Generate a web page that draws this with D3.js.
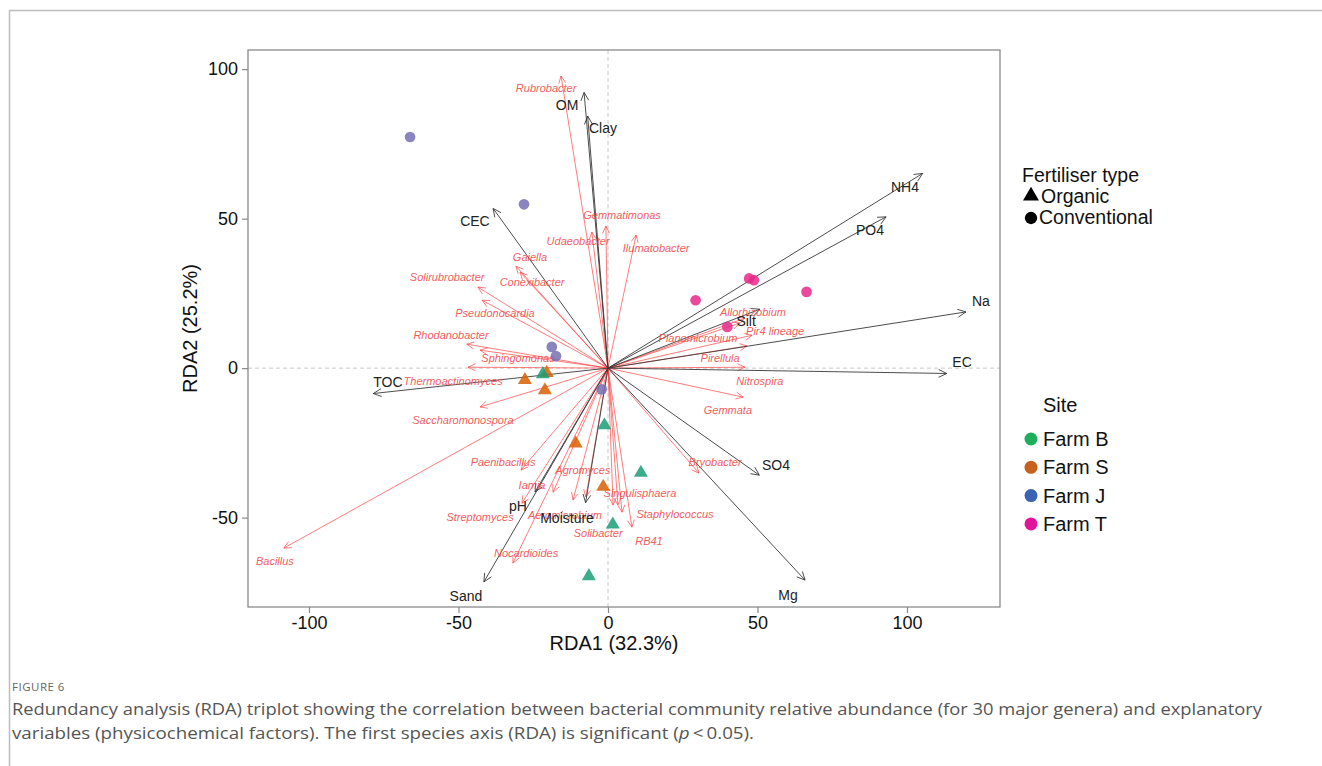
<!DOCTYPE html>
<html>
<head>
<meta charset="utf-8">
<script src="https://cdn.jsdelivr.net/npm/d3@7/dist/d3.min.js"></script>
<style>
  html, body { margin: 0; padding: 0; background: #fff; }
  svg { display: block; }
</style>
</head>
<body>
<svg id="chart" width="1322" height="766"></svg>
<script>
// ---------------- DATA ----------------
const xTicks = [-100, -50, 0, 50, 100];
const yTicks = [-50, 0, 50, 100];
const xTitle = "RDA1 (32.3%)";
const yTitle = "RDA2 (25.2%)";

// Samples (site scores)
const sampleX    = [-66.2, -28.1, -18.8, -17.4, -2.1,   29.3, 47.2, 48.8, 66.4, 39.9,   -27.8, -20.5, -21.1, -10.8, -1.6,   -21.8, -1.2, 11.0, 1.6, -6.4];
const sampleY    = [ 77.3,  54.8,   7.1,   4.0, -7.1,   22.7, 30.0, 29.4, 25.5, 13.8,    -4.0,  -1.6,  -7.4, -25.2, -39.7,   -2.0, -19.1, -35.0, -52.3, -69.6];
const sampleSite = ["Farm J","Farm J","Farm J","Farm J","Farm J",
                    "Farm T","Farm T","Farm T","Farm T","Farm T",
                    "Farm S","Farm S","Farm S","Farm S","Farm S",
                    "Farm B","Farm B","Farm B","Farm B","Farm B"];
const sampleType = ["Conventional","Conventional","Conventional","Conventional","Conventional",
                    "Conventional","Conventional","Conventional","Conventional","Conventional",
                    "Organic","Organic","Organic","Organic","Organic",
                    "Organic","Organic","Organic","Organic","Organic"];

// Explanatory variables (biplot arrows)
const envNames  = ["OM","Clay","CEC","NH4","PO4","Na","EC","Silt","TOC","SO4","Mg","Sand","pH","Moisture"];
const envX      = [-8.0, -6.8, -38.4, 105.2, 93.0, 119.7, 113.3, 50.8, -78.5, 50.6, 65.9, -41.5, -24.4, -7.5];
const envY      = [92.2, 84.3,  53.4,  65.1, 50.6,  18.8,  -1.8, 19.7,  -8.5, -35.8, -70.9, -71.5, -41.4, -45.0];
const envLabelX = [-13.7, -1.7, -44.5, 99.3, 87.6, 124.7, 118.4, 46.2, -73.6, 56.2, 60.2, -47.5, -30.1, -13.7];
const envLabelY = [ 88.0, 80.3,  49.2, 60.5, 46.2,  22.4,   2.0, 15.7,  -4.7, -32.4, -75.9, -76.3, -46.2, -50.2];

// Genera (species arrows)
const sppNames = ["Rubrobacter","Gemmatimonas","Udaeobacter","Ilumatobacter","Gaiella","Conexibacter",
                  "Solirubrobacter","Pseudonocardia","Rhodanobacter","Sphingomonas","Thermoactinomyces",
                  "Saccharomonospora","Bacillus","Paenibacillus","Iamia","Streptomyces","Aeromicrobium",
                  "Agromyces","Nocardioides","Solibacter","Singulisphaera","Staphylococcus","RB41",
                  "Bryobacter","Gemmata","Nitrospira","Pirellula","Pir4 lineage","Planomicrobium","Allorhizobium"];
const sppX = [-15.7, -0.7, -5.4, 9.4, -30.8, -29.4, -43.5, -42.1, -47.2, -42.8, -46.8,
              -42.8, -108.4, -29.1, -18.4, -28.8, -11.7, -7.4, -31.8, 1.7, 3.3, 4.7, 8.0,
              30.4, 45.2, 45.8, 46.5, 48.2, 44.1, 45.8];
const sppY = [97.7, 47.5, 45.5, 44.5, 34.1, 32.1, 27.1, 22.7, 8.0, 6.0, 0.3,
              -13.0, -60.2, -34.1, -41.5, -45.2, -44.1, -43.1, -65.2, -45.8, -45.8, -48.2, -53.2,
              -35.1, -9.7, 0.3, 7.4, 11.0, 15.1, 16.7];
const sppLabelX = [-20.7, 4.7, -10.0, 16.1, -26.1, -25.4, -53.8, -37.8, -52.5, -30.1, -51.8,
                   -48.5, -111.4, -35.1, -25.4, -42.8, -14.4, -8.4, -27.4, -3.3, 10.7, 22.4, 13.7,
                   35.8, 40.1, 50.8, 37.5, 55.9, 30.1, 48.5];
const sppLabelY = [93.6, 51.2, 42.5, 40.1, 37.1, 28.8, 30.4, 18.4, 11.0, 3.3, -4.3,
                   -17.4, -64.5, -31.4, -39.1, -49.8, -49.2, -34.1, -61.9, -55.2, -41.8, -48.8, -57.9,
                   -31.4, -14.0, -4.3, 3.3, 12.4, 10.0, 18.7];

// Legends
const siteNames = ["Farm B","Farm S","Farm J","Farm T"];
const sitePlotColors = ["#1B9E77","#D95F02","#7570B3","#E7298A"];
const siteLegendColors = ["#1faf5c","#c9611d","#3a64b2","#e0159c"];
const typeNames = ["Organic","Conventional"];

const figLabel = "FIGURE 6";
const captionLine1 = "Redundancy analysis (RDA) triplot showing the correlation between bacterial community relative abundance (for 30 major genera) and explanatory";
const captionLine2a = "variables (physicochemical factors). The first species axis (RDA) is significant (";
const captionLine2b = "p";
const captionLine2c = "\u2009<\u20090.05).";

// ---------------- DRAW ----------------
const svg = d3.select("#chart");
const FONT = "Liberation Sans, Arial, sans-serif";

// page frame
svg.append("line").attr("x1", 9).attr("x2", 1322).attr("y1", 10.5).attr("y2", 10.5)
   .attr("stroke", "#bdbdbd").attr("stroke-width", 1.5);
svg.append("line").attr("x1", 9.5).attr("x2", 9.5).attr("y1", 10).attr("y2", 766)
   .attr("stroke", "#bdbdbd").attr("stroke-width", 1.5);

const plot = { left: 248, right: 1000, top: 50, bottom: 607 };
const x = d3.scaleLinear().domain([-120.4, 131.1]).range([plot.left, plot.right]);
const y = d3.scaleLinear().domain([-79.9, 106.4]).range([plot.bottom, plot.top]);

const g = svg.append("g");

// clip
svg.append("clipPath").attr("id", "clip").append("rect")
  .attr("x", plot.left).attr("y", plot.top)
  .attr("width", plot.right - plot.left).attr("height", plot.bottom - plot.top);

const inner = g.append("g").attr("clip-path", "url(#clip)");

// zero dashed lines
inner.append("line").attr("x1", x(0)).attr("x2", x(0)).attr("y1", plot.top).attr("y2", plot.bottom)
  .attr("stroke", "#c8c8c8").attr("stroke-dasharray", "4,3").attr("stroke-width", 1);
inner.append("line").attr("x1", plot.left).attr("x2", plot.right).attr("y1", y(0)).attr("y2", y(0))
  .attr("stroke", "#c8c8c8").attr("stroke-dasharray", "4,3").attr("stroke-width", 1);

function arrowPath(x0, y0, x1, y1, len, ang) {
  const a = Math.atan2(y1 - y0, x1 - x0);
  const ax = x1 - len * Math.cos(a - ang), ay = y1 - len * Math.sin(a - ang);
  const bx = x1 - len * Math.cos(a + ang), by = y1 - len * Math.sin(a + ang);
  return `M${x0},${y0}L${x1},${y1}M${ax},${ay}L${x1},${y1}L${bx},${by}`;
}

// species arrows (red)
inner.append("g").selectAll("path").data(sppNames).join("path")
  .attr("d", (d, i) => arrowPath(x(0), y(0), x(sppX[i]), y(sppY[i]), 8, Math.PI / 7))
  .attr("fill", "none").attr("stroke", "#ff3b3b").attr("stroke-opacity", 0.75).attr("stroke-width", 0.9);

// env arrows (black)
inner.append("g").selectAll("path").data(envNames).join("path")
  .attr("d", (d, i) => arrowPath(x(0), y(0), x(envX[i]), y(envY[i]), 9, Math.PI / 7))
  .attr("fill", "none").attr("stroke", "#3a3a3a").attr("stroke-opacity", 0.9).attr("stroke-width", 1);

// species labels
inner.append("g").selectAll("text").data(sppNames).join("text")
  .attr("x", (d, i) => x(sppLabelX[i])).attr("y", (d, i) => y(sppLabelY[i]))
  .attr("text-anchor", "middle").attr("dominant-baseline", "central")
  .attr("font-family", FONT).attr("font-style", "italic").attr("font-size", 11)
  .attr("fill", "#f04848").attr("fill-opacity", 0.9)
  .text(d => d);

// env labels
inner.append("g").selectAll("text").data(envNames).join("text")
  .attr("x", (d, i) => x(envLabelX[i])).attr("y", (d, i) => y(envLabelY[i]))
  .attr("text-anchor", "middle").attr("dominant-baseline", "central")
  .attr("font-family", FONT).attr("font-size", 14).attr("fill", "#222")
  .text(d => d);

// samples
const siteColor = d3.scaleOrdinal().domain(siteNames).range(sitePlotColors);
const shape = d3.scaleOrdinal().domain(typeNames).range([d3.symbolTriangle, d3.symbolCircle]);
const size = d3.scaleOrdinal().domain(typeNames).range([85, 90]);
inner.append("g").selectAll("path").data(sampleX).join("path")
  .attr("transform", (d, i) => `translate(${x(sampleX[i])},${y(sampleY[i])})`)
  .attr("d", (d, i) => d3.symbol().type(shape(sampleType[i])).size(size(sampleType[i]))())
  .attr("fill", (d, i) => siteColor(sampleSite[i])).attr("fill-opacity", 0.85);

// frame
g.append("rect").attr("x", plot.left).attr("y", plot.top)
  .attr("width", plot.right - plot.left).attr("height", plot.bottom - plot.top)
  .attr("fill", "none").attr("stroke", "#8a8a8a").attr("stroke-width", 1.3);

// axes
const fmt = d => String(d);
const xAxis = g.append("g").attr("transform", `translate(0,${plot.bottom})`)
  .call(d3.axisBottom(x).tickValues(xTicks).tickFormat(fmt).tickSize(6).tickPadding(3));
const yAxis = g.append("g").attr("transform", `translate(${plot.left},0)`)
  .call(d3.axisLeft(y).tickValues(yTicks).tickFormat(fmt).tickSize(6).tickPadding(4));
[xAxis, yAxis].forEach(a => {
  a.select(".domain").remove();
  a.selectAll(".tick line").attr("stroke", "#8a8a8a").attr("stroke-width", 1.2);
  a.selectAll(".tick text").attr("font-family", FONT).attr("font-size", 18).attr("fill", "#111");
});

// axis titles
g.append("text").attr("x", (plot.left + plot.right) / 2 - 10).attr("y", 650)
  .attr("text-anchor", "middle").attr("font-family", FONT).attr("font-size", 20).attr("fill", "#111")
  .text(xTitle);
g.append("text").attr("transform", `translate(197,${(plot.top + plot.bottom) / 2 + 0}) rotate(-90)`)
  .attr("text-anchor", "middle").attr("font-family", FONT).attr("font-size", 20).attr("fill", "#111")
  .text(yTitle);

// legend: fertiliser type
const leg1 = g.append("g");
leg1.append("text").attr("x", 1022).attr("y", 182).attr("font-family", FONT).attr("font-size", 19.5)
  .attr("fill", "#111").text("Fertiliser type");
leg1.selectAll("path").data(typeNames).join("path")
  .attr("transform", (d, i) => `translate(${1031},${196 + i * 22})`)
  .attr("d", d => d3.symbol().type(shape(d)).size(d === "Organic" ? 110 : 120)())
  .attr("fill", "#000");
leg1.selectAll("text.item").data(typeNames).join("text").attr("class", "item")
  .attr("x", (d, i) => i === 0 ? 1041 : 1039).attr("y", (d, i) => 202.5 + i * 21.5)
  .attr("font-family", FONT).attr("font-size", 19.5).attr("fill", "#111").text(d => d);

// legend: site
const leg2 = g.append("g");
leg2.append("text").attr("x", 1043).attr("y", 412).attr("font-family", FONT).attr("font-size", 20)
  .attr("fill", "#111").text("Site");
leg2.selectAll("circle").data(siteNames).join("circle")
  .attr("cx", 1031).attr("cy", (d, i) => 439 + i * 28.3).attr("r", 6.5)
  .attr("fill", (d, i) => siteLegendColors[i]);
leg2.selectAll("text.item").data(siteNames).join("text").attr("class", "item")
  .attr("x", 1043).attr("y", (d, i) => 446 + i * 28.3)
  .attr("font-family", FONT).attr("font-size", 20).attr("fill", "#111").text(d => d);

// caption
const CAPFONT = "Open Sans, Noto Sans, sans-serif";
svg.append("text").attr("x", 12).attr("y", 691).attr("font-family", CAPFONT).attr("font-size", 11.5)
  .attr("letter-spacing", 0.5).attr("fill", "#666").text(figLabel);
svg.append("text").attr("x", 12).attr("y", 715).attr("font-family", CAPFONT).attr("font-size", 16)
  .attr("fill", "#555").attr("textLength", 1250).attr("lengthAdjust", "spacingAndGlyphs").text(captionLine1);
const cap2 = svg.append("text").attr("x", 12).attr("y", 739).attr("font-family", CAPFONT).attr("font-size", 16)
  .attr("fill", "#555").attr("textLength", 742).attr("lengthAdjust", "spacingAndGlyphs");
cap2.append("tspan").text(captionLine2a);
cap2.append("tspan").attr("font-style", "italic").text(captionLine2b);
cap2.append("tspan").text(captionLine2c);
</script>
</body>
</html>
